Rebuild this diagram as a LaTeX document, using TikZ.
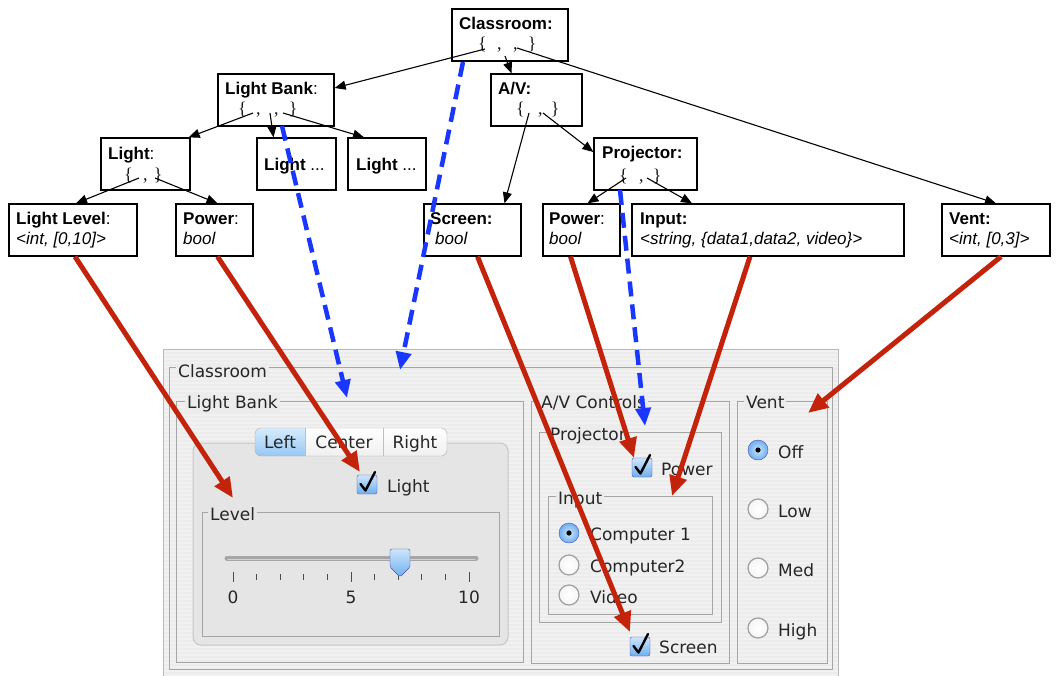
\documentclass[tikz,border=0pt]{standalone}
\usepackage{fontspec}
\setmainfont{Liberation Sans}
\newfontfamily\guifont{DejaVu Sans}
\newfontfamily\bracefont{Liberation Serif}
\usetikzlibrary{arrows.meta}
\definecolor{redarrow}{RGB}{195,35,10}
\definecolor{bluearrow}{RGB}{25,55,255}
\definecolor{guibg}{RGB}{236,236,236}
\definecolor{tabbg}{RGB}{229,229,229}
\definecolor{gframe}{RGB}{165,165,165}
\definecolor{aquatop}{RGB}{205,230,252}
\definecolor{aquabot}{RGB}{110,175,238}
\definecolor{segtop}{RGB}{215,235,252}
\definecolor{segbot}{RGB}{150,200,245}
\tikzset{
  tbox/.style={draw=black, line width=1.3pt, fill=white, inner sep=0pt},
  ttl/.style={font=\fontsize{17}{20}\selectfont, anchor=base west, inner sep=0pt},
  brc/.style={font=\bracefont\fontsize{18}{20}\selectfont, text=black!90, anchor=base west, inner sep=0pt},
  tarrow/.style={-{Triangle[length=11pt,width=9pt]}, line width=1.1pt},
  redarr/.style={draw=redarrow, line width=5pt, -{Triangle[length=20pt,width=17pt]}},
  bluearr/.style={draw=bluearrow, line width=4.5pt, dash pattern=on 15pt off 8pt, -{Triangle[length=18pt,width=15pt]}},
  gline/.style={draw=gframe, line width=1pt},
  gtxt/.style={font=\guifont\fontsize{17}{20}\selectfont, inner sep=0pt, text=black!85, anchor=base west},
  gtitle/.style={gtxt, fill=guibg, inner xsep=2pt, inner ysep=1pt},
  chkpic/.pic={
    \path[draw=blue!35!gray, top color=aquatop, bottom color=aquabot, rounded corners=2pt] (0,0) rectangle (20,19);
    \draw[line width=2.4pt, line join=round, line cap=round] (3.5,9) -- (8.5,15.5) -- (18,-3);
  },
  radoff/.pic={
    \path[draw=gray!75, line width=1.2pt, inner color=white, outer color=gray!8] (0,0) circle[radius=10pt];
  },
  radon/.pic={
    \path[draw=blue!40!gray, inner color=aquatop, outer color=aquabot] (0,0) circle[radius=10pt];
    \fill[black] (0,0) circle[radius=2.6pt];
  }
}
\begin{document}
\begin{tikzpicture}[x=1pt,y=-1pt]
\useasboundingbox (0,0) rectangle (1058,675);
\fill[white] (0,0) rectangle (1058,675);

% ---------------- GUI window ----------------
\fill[guibg] (163,349) rectangle (838,676);
\foreach \yy in {351,355,...,675} \draw[white, opacity=0.3, line width=1.2pt] (163,\yy) -- (838,\yy);
\draw[gray!55] (163,349) rectangle (838,676);

\draw[gline] (169,367) rectangle (832,669);
\draw[gline] (176,401) rectangle (523,662);
\path[draw=gray!45, line width=1pt, fill=tabbg, rounded corners=8pt] (193,443) rectangle (508,645);
\draw[gline] (202,512) rectangle (499,636);
\draw[gline] (531,401) rectangle (729,663);
\draw[gline] (539,432) rectangle (721,622);
\draw[gline] (548,496) rectangle (712,614);
\draw[gline] (737,401) rectangle (827,663);

\node[gtitle] (g-cls) at (176,377) {Classroom};
\node[gtitle] (g-lb) at (185,408) {Light Bank};
\node[gtitle, fill=tabbg] (g-lev) at (208,520) {Level};
\node[gtitle] (g-av) at (539,408) {A/V Controls};
\node[gtitle] (g-proj) at (548,440) {Projector};
\node[gtitle] (g-inp) at (556,504) {Input};
\node[gtitle] (g-vent) at (744,408) {Vent};

% segmented control
\begin{scope}
  \clip[rounded corners=6pt] (255,428) rectangle (447,456);
  \shade[top color=white, bottom color=gray!12] (255,428) rectangle (447,456);
  \shade[top color=segtop, bottom color=segbot] (255,428) rectangle (305,456);
\end{scope}
\draw[gray!65, rounded corners=6pt] (255,428) rectangle (447,456);
\draw[gray!50] (305,428) -- (305,456) (383,428) -- (383,456);
\node[gtxt, anchor=base] (g-left) at (280,448) {Left};
\node[gtxt, anchor=base] (g-center) at (344,448) {Center};
\node[gtxt, anchor=base] (g-right) at (415,448) {Right};

% light checkbox
\pic at (357,475) {chkpic};
\node[gtxt] (g-light) at (387,492) {Light};

% slider
\draw[line width=5pt, line cap=round, gray!70] (227,558) -- (476,558);
\draw[line width=1.2pt, line cap=round, gray!35] (228,559.5) -- (475,559.5);
\foreach \i in {0,...,10} \draw[gray!60!black, line width=1pt] ({233+23.6*\i},574) -- ({233+23.6*\i},580);
\foreach \i in {0,5,10} \draw[gray!60!black, line width=1pt] ({233+23.6*\i},572) -- ({233+23.6*\i},582);
\path[draw=blue!40!gray, top color=aquatop, bottom color=aquabot, rounded corners=1.5pt] (390,549) -- (410,549) -- (410,567) -- (400,577) -- (390,567) -- cycle;
\node[gtxt, anchor=base] (g-0) at (233,603) {0};
\node[gtxt, anchor=base] (g-5) at (351,603) {5};
\node[gtxt, anchor=base] (g-10) at (469,603) {10};

% A/V controls
\pic at (632,458) {chkpic};
\node[gtxt] (g-power) at (661,475) {Power};
\pic at (569,533) {radon};
\pic at (569,565) {radoff};
\pic at (569,595) {radoff};
\node[gtxt] (g-c1) at (590,540) {Computer 1};
\node[gtxt] (g-c2) at (590,572) {Computer2};
\node[gtxt] (g-video) at (590,603) {Video};
\pic at (630,637) {chkpic};
\node[gtxt] (g-screen) at (659,653) {Screen};

% Vent
\pic at (758,450) {radon};
\pic at (758,509) {radoff};
\pic at (758,568) {radoff};
\pic at (758,628) {radoff};
\node[gtxt] (g-off) at (778,458) {Off};
\node[gtxt] (g-low) at (778,517) {Low};
\node[gtxt] (g-med) at (778,576) {Med};
\node[gtxt] (g-high) at (778,636) {High};

% ---------------- Tree ----------------
\node[tbox, minimum width=116pt, minimum height=52pt] (cls) at (510,35) {};
\node[tbox, minimum width=116pt, minimum height=52pt] (lb) at (276,100) {};
\node[tbox, minimum width=91pt, minimum height=52pt] (av) at (536.5,100) {};
\node[tbox, minimum width=89pt, minimum height=52pt] (light) at (145.5,164) {};
\node[tbox, minimum width=79pt, minimum height=52pt] (l1) at (296.5,164) {};
\node[tbox, minimum width=78pt, minimum height=52pt] (l2) at (387,164) {};
\node[tbox, minimum width=103pt, minimum height=52pt] (proj) at (645.5,164) {};
\node[tbox, minimum width=128pt, minimum height=52pt] (ll) at (73,230) {};
\node[tbox, minimum width=77pt, minimum height=52pt] (pw1) at (214.5,230) {};
\node[tbox, minimum width=97pt, minimum height=52pt] (scr) at (472.5,230) {};
\node[tbox, minimum width=77pt, minimum height=52pt] (pw2) at (581.5,230) {};
\node[tbox, minimum width=272pt, minimum height=52pt] (inp) at (768,230) {};
\node[tbox, minimum width=108pt, minimum height=52pt] (vent) at (996,230) {};

\node[ttl] (cls-t) at (459,29) {\textbf{Classroom:}};
\node[brc] (cls-b) at (478,49) {\{\hspace{10.2pt},\hspace{11.5pt},\hspace{10.4pt}\}};
\node[ttl] (lb-t) at (225,94) {\textbf{Light Bank}:};
\node[brc] (lb-b) at (238,114) {\{\hspace{9.2pt},\hspace{13.5pt},\hspace{10.4pt}\}};
\node[ttl] (av-t) at (498,94) {\textbf{A/V:}};
\node[brc] (av-b) at (516,114) {\{\hspace{13.2pt},\hspace{8.4pt}\}};
\node[ttl] (light-t) at (108,159) {\textbf{Light}:};
\node[brc] (light-b) at (124,180) {\{\hspace{10.2pt},\hspace{6.4pt}\}};
\node[ttl] (l1-t) at (264,170) {\textbf{Light} ...};
\node[ttl] (l2-t) at (356,170) {\textbf{Light} ...};
\node[ttl] (proj-t) at (602,158) {\textbf{Projector:}};
\node[brc] (proj-b) at (619,181) {\{\hspace{11.2pt},\hspace{9.4pt}\}};
\node[ttl] (ll-t) at (16,224) {\textbf{Light Level}:};
\node[ttl] (ll-v) at (16,244) {\textit{<int, [0,10]>}};
\node[ttl] (pw1-t) at (183,224) {\textbf{Power}:};
\node[ttl] (pw1-v) at (183,244) {\textit{bool}};
\node[ttl] (scr-t) at (430,224) {\textbf{Screen:}};
\node[ttl] (scr-v) at (435,244) {\textit{bool}};
\node[ttl] (pw2-t) at (549,224) {\textbf{Power}:};
\node[ttl] (pw2-v) at (549,244) {\textit{bool}};
\node[ttl] (inp-t) at (640,224) {\textbf{Input:}};
\node[ttl] (inp-v) at (640,244) {\textit{<string, \{data1,data2, video\}>}};
\node[ttl] (vent-t) at (949,224) {\textbf{Vent:}};
\node[ttl] (vent-v) at (949,244) {\textit{<int, [0,3]>}};

% tree connector start points
\coordinate (a-cls-lb) at (485,49);
\coordinate (a-cls-av) at (505,56);
\coordinate (a-cls-vent) at (517,48);
\coordinate (a-lb-light) at (253,113);
\coordinate (a-lb-l1) at (270,113);
\coordinate (a-lb-l2) at (283,113);
\coordinate (a-av-scr) at (529,113);
\coordinate (a-av-proj) at (543,113);
\coordinate (a-light-ll) at (139,178);
\coordinate (a-light-pw) at (155,178);
\coordinate (a-proj-pw) at (626,178);
\coordinate (a-proj-inp) at (647,178);

\draw[tarrow] (a-cls-lb) -- ([yshift=12pt]lb.east);
\draw[tarrow] (a-cls-av) -- ([xshift=-25pt]av.north);
\draw[tarrow] (a-cls-vent) -- (vent.north);
\draw[tarrow] (a-lb-light) -- ([xshift=-2pt]light.north east);
\draw[tarrow] (a-lb-l1) -- ([xshift=-23pt]l1.north);
\draw[tarrow] (a-lb-l2) -- ([xshift=-23pt]l2.north);
\draw[tarrow] (a-av-scr) -- ([xshift=32pt]scr.north);
\draw[tarrow] (a-av-proj) -- ([yshift=12pt]proj.west);
\draw[tarrow] (a-light-ll) -- ([xshift=3pt]ll.north);
\draw[tarrow] (a-light-pw) -- ([xshift=3pt]pw1.north);
\draw[tarrow] (a-proj-pw) -- ([xshift=6pt]pw2.north);
\draw[tarrow] (a-proj-inp) -- ([xshift=-76pt]inp.north);

% ---------------- mapping arrows ----------------
\coordinate (s-lb) at (282,126);
\coordinate (s-cls) at (463,62);
\coordinate (s-proj) at (620,190);
\coordinate (t-lb) at (347,398);
\coordinate (t-cls) at (400,370);
\coordinate (t-proj) at (645,426);
\draw[bluearr] (s-lb) -- (t-lb);
\draw[bluearr] (s-cls) -- (t-cls);
\draw[bluearr] (s-proj) -- (t-proj);

\coordinate (t-level) at (233,498);
\coordinate (t-light) at (360,472);
\coordinate (t-screen) at (630,632);
\coordinate (t-power) at (634,458);
\coordinate (t-input) at (672,496);
\coordinate (t-vent) at (808,413);
\draw[redarr] ([xshift=2pt]ll.south) -- (t-level);
\draw[redarr] ([xshift=3pt]pw1.south) -- (t-light);
\draw[redarr] ([xshift=5pt]scr.south) -- (t-screen);
\draw[redarr] ([xshift=-11pt]pw2.south) -- (t-power);
\draw[redarr] ([xshift=-18pt]inp.south) -- (t-input);
\draw[redarr] ([xshift=5pt]vent.south) -- (t-vent);
\end{tikzpicture}
\end{document}
